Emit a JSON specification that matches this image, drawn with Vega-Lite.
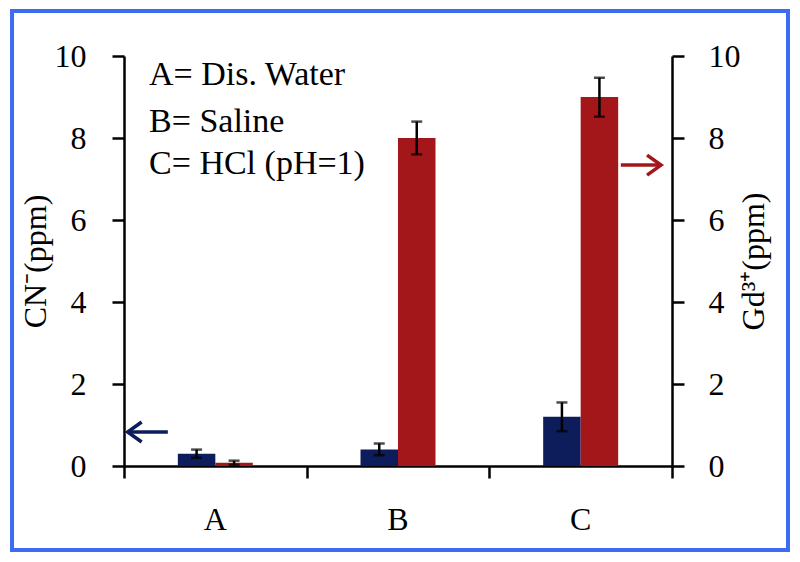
{
  "$schema": "https://vega.github.io/schema/vega-lite/v6.json",
  "width": 548,
  "height": 410,
  "autosize": "none",
  "padding": {"left": 124, "top": 56, "right": 128, "bottom": 96},
  "background": "white",
  "config": {
    "view": {"stroke": null},
    "font": "Liberation Serif",
    "axis": {
      "domainColor": "black",
      "domainWidth": 2.5,
      "tickColor": "black",
      "tickWidth": 2.5,
      "tickSize": 12,
      "grid": false,
      "labelFont": "Liberation Serif",
      "labelFontSize": 32,
      "labelColor": "black",
      "titleFont": "Liberation Serif",
      "titleFontSize": 32,
      "titleFontWeight": "normal",
      "titleColor": "black"
    }
  },
  "datasets": {
    "bars": [
      {"cat": "A", "series": "CN", "value": 0.3, "lo": 0.2, "hi": 0.4},
      {"cat": "A", "series": "Gd", "value": 0.08, "lo": 0.03, "hi": 0.13},
      {"cat": "B", "series": "CN", "value": 0.4, "lo": 0.26, "hi": 0.55},
      {"cat": "B", "series": "Gd", "value": 8.0, "lo": 7.6, "hi": 8.4},
      {"cat": "C", "series": "CN", "value": 1.2, "lo": 0.85, "hi": 1.55},
      {"cat": "C", "series": "Gd", "value": 9.0, "lo": 8.52, "hi": 9.47}
    ],
    "arrows": [
      {"series": "CN", "tip": 0.02, "tail": 0.24, "level": 0.83},
      {"series": "Gd", "tip": 2.94, "tail": 2.72, "level": 7.34}
    ],
    "notes": [
      {"text": "A= Dis. Water", "px": 0.137, "py": 9.29},
      {"text": "B= Saline", "px": 0.137, "py": 8.15},
      {"text": "C= HCl (pH=1)", "px": 0.137, "py": 7.12}
    ],
    "frame": [
      {"x0": -0.613, "x1": 3.635, "y0": -2.05, "y1": 11.1}
    ]
  },
  "layer": [
    {
      "data": {"name": "bars"},
      "transform": [{"filter": "datum.series === 'CN'"}],
      "encoding": {
        "x": {
          "field": "cat", "type": "nominal",
          "scale": {"domain": ["A", "B", "C"], "paddingInner": 0.1789, "paddingOuter": 0.0894},
          "axis": {"orient": "bottom", "title": null, "domain": false, "ticks": false, "tickSize": 0, "labelAngle": 0, "labelPadding": 38}
        },
        "xOffset": {
          "field": "series", "type": "nominal",
          "scale": {"domain": ["CN", "Gd"], "paddingInner": 0, "paddingOuter": 1}
        }
      },
      "layer": [
        {
          "mark": {"type": "bar", "color": "#0d1d5c"},
          "encoding": {
            "y": {
              "field": "value", "type": "quantitative", "title": "CN⁻(ppm)",
              "scale": {"domain": [0, 10], "nice": false},
              "axis": {"orient": "left", "values": [0, 2, 4, 6, 8, 10], "labelPadding": 26, "titlePadding": 2}
            }
          }
        },
        {
          "mark": {"type": "rule", "color": "black", "strokeWidth": 2.5},
          "encoding": {
            "y": {"field": "lo", "type": "quantitative", "title": "CN⁻(ppm)"},
            "y2": {"field": "hi"}
          }
        },
        {
          "mark": {"type": "tick", "color": "black", "size": 11, "thickness": 2.5, "orient": "horizontal"},
          "encoding": {"y": {"field": "hi", "type": "quantitative", "title": "CN⁻(ppm)"}}
        },
        {
          "mark": {"type": "tick", "color": "black", "size": 11, "thickness": 2.5, "orient": "horizontal"},
          "encoding": {"y": {"field": "lo", "type": "quantitative", "title": "CN⁻(ppm)"}}
        }
      ]
    },
    {
      "data": {"name": "bars"},
      "transform": [{"filter": "datum.series === 'Gd'"}],
      "encoding": {
        "x": {
          "field": "cat", "type": "nominal",
          "scale": {"domain": ["A", "B", "C"], "paddingInner": 0.1789, "paddingOuter": 0.0894},
          "axis": null
        },
        "xOffset": {
          "field": "series", "type": "nominal",
          "scale": {"domain": ["CN", "Gd"], "paddingInner": 0, "paddingOuter": 1}
        }
      },
      "layer": [
        {
          "mark": {"type": "bar", "color": "#a3171a"},
          "encoding": {
            "y": {
              "field": "value", "type": "quantitative", "title": "Gd³⁺(ppm)",
              "scale": {"domain": [0, 10], "nice": false},
              "axis": {"orient": "right", "values": [0, 2, 4, 6, 8, 10], "labelPadding": 24, "titlePadding": -2, "titleAngle": 270, "titleBaseline": "top"}
            }
          }
        },
        {
          "mark": {"type": "rule", "color": "black", "strokeWidth": 2.5},
          "encoding": {
            "y": {"field": "lo", "type": "quantitative", "title": "Gd³⁺(ppm)"},
            "y2": {"field": "hi"}
          }
        },
        {
          "mark": {"type": "tick", "color": "black", "size": 11, "thickness": 2.5, "orient": "horizontal"},
          "encoding": {"y": {"field": "hi", "type": "quantitative", "title": "Gd³⁺(ppm)"}}
        },
        {
          "mark": {"type": "tick", "color": "black", "size": 11, "thickness": 2.5, "orient": "horizontal"},
          "encoding": {"y": {"field": "lo", "type": "quantitative", "title": "Gd³⁺(ppm)"}}
        }
      ]
    },
    {
      "layer": [
        {
          "data": {"name": "arrows"},
          "mark": {"type": "rule", "strokeWidth": 3.5},
          "encoding": {
            "x": {
              "field": "tail", "type": "quantitative", "title": null,
              "scale": {"domain": [0, 3], "nice": false, "zero": false},
              "axis": {"orient": "bottom", "values": [0, 1, 2, 3], "labels": false, "title": null, "grid": false}
            },
            "x2": {"field": "tip"},
            "y": {"field": "level", "type": "quantitative", "scale": {"domain": [0, 10], "nice": false}, "axis": null},
            "color": {"field": "series", "type": "nominal", "scale": {"domain": ["CN", "Gd"], "range": ["#0d1d5c", "#a3171a"]}, "legend": null}
          }
        },
        {
          "data": {"name": "arrows"},
          "mark": {"type": "point", "filled": false, "strokeWidth": 3.5, "size": 400, "opacity": 1},
          "encoding": {
            "x": {"field": "tip", "type": "quantitative", "title": null},
            "y": {"field": "level", "type": "quantitative", "axis": null},
            "color": {"field": "series", "type": "nominal", "legend": null},
            "shape": {"field": "series", "type": "nominal", "scale": {"domain": ["CN", "Gd"], "range": ["M1.4,-1L0,0L1.4,1", "M-1.4,-1L0,0L-1.4,1"]}, "legend": null}
          }
        },
        {
          "data": {"name": "notes"},
          "mark": {"type": "text", "align": "left", "baseline": "alphabetic", "fontSize": 34, "font": "Liberation Serif", "color": "black"},
          "encoding": {
            "x": {"field": "px", "type": "quantitative", "title": null},
            "y": {"field": "py", "type": "quantitative", "axis": null},
            "text": {"field": "text", "type": "nominal"}
          }
        },
        {
          "data": {"name": "frame"},
          "mark": {"type": "rect", "fill": null, "stroke": "#3c6cf4", "strokeWidth": 4, "clip": false},
          "encoding": {
            "x": {"field": "x0", "type": "quantitative", "title": null},
            "x2": {"field": "x1"},
            "y": {"field": "y0", "type": "quantitative", "axis": null},
            "y2": {"field": "y1"}
          }
        }
      ]
    }
  ],
  "resolve": {"scale": {"x": "independent", "y": "independent", "xOffset": "independent", "color": "independent", "shape": "independent"}}
}
